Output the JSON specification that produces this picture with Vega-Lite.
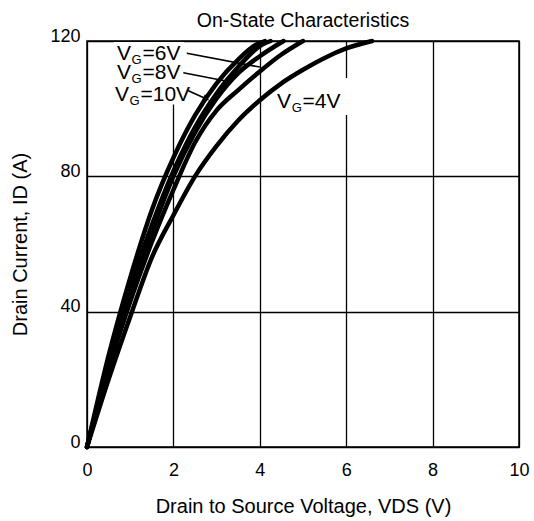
{
  "$schema": "https://vega.github.io/schema/vega-lite/v6.json",
  "width": 432,
  "height": 406,
  "autosize": {"type": "none"},
  "padding": {"left": 87, "top": 41, "right": 15, "bottom": 74},
  "background": "white",
  "config": {
    "font": "Liberation Sans",
    "view": {"stroke": "black", "strokeWidth": 1.5},
    "axis": {
      "grid": true,
      "gridColor": "black",
      "gridOpacity": 1,
      "gridWidth": 1.3,
      "ticks": false,
      "domain": false,
      "labelColor": "black",
      "labelFontSize": 18,
      "labelFlush": false,
      "titleColor": "black",
      "titleFontSize": 20,
      "titleFontWeight": "normal"
    }
  },
  "title": {
    "text": "On-State Characteristics",
    "fontSize": 19.5,
    "fontWeight": "normal",
    "color": "black",
    "frame": "group",
    "anchor": "middle",
    "baseline": "alphabetic",
    "offset": -19
  },
  "datasets": {
    "curves": [
      {"vg": "10V", "vds": 0, "id": 0},
      {"vg": "10V", "vds": 0.5, "id": 27},
      {"vg": "10V", "vds": 1.0, "id": 50},
      {"vg": "10V", "vds": 1.5, "id": 70},
      {"vg": "10V", "vds": 2.0, "id": 85.5},
      {"vg": "10V", "vds": 2.5, "id": 98},
      {"vg": "10V", "vds": 3.0, "id": 107.5},
      {"vg": "10V", "vds": 3.5, "id": 114.5},
      {"vg": "10V", "vds": 3.9, "id": 118.8},
      {"vg": "10V", "vds": 4.12, "id": 120},
      {"vg": "8V", "vds": 0, "id": 0},
      {"vg": "8V", "vds": 0.5, "id": 25},
      {"vg": "8V", "vds": 1.0, "id": 47},
      {"vg": "8V", "vds": 1.5, "id": 65.5},
      {"vg": "8V", "vds": 2.0, "id": 81.5},
      {"vg": "8V", "vds": 2.5, "id": 94.5},
      {"vg": "8V", "vds": 3.0, "id": 104.5},
      {"vg": "8V", "vds": 3.5, "id": 112.3},
      {"vg": "8V", "vds": 4.0, "id": 118.5},
      {"vg": "8V", "vds": 4.25, "id": 120},
      {"vg": "7V", "vds": 0, "id": 0},
      {"vg": "7V", "vds": 0.5, "id": 24},
      {"vg": "7V", "vds": 1.0, "id": 45},
      {"vg": "7V", "vds": 1.5, "id": 63.5},
      {"vg": "7V", "vds": 2.0, "id": 80},
      {"vg": "7V", "vds": 2.5, "id": 93},
      {"vg": "7V", "vds": 3.0, "id": 103},
      {"vg": "7V", "vds": 3.5, "id": 110.5},
      {"vg": "7V", "vds": 4.0, "id": 115.5},
      {"vg": "7V", "vds": 4.55, "id": 120},
      {"vg": "6V", "vds": 0, "id": 0},
      {"vg": "6V", "vds": 0.5, "id": 23},
      {"vg": "6V", "vds": 1.0, "id": 43},
      {"vg": "6V", "vds": 1.5, "id": 60.5},
      {"vg": "6V", "vds": 2.0, "id": 76},
      {"vg": "6V", "vds": 2.5, "id": 90},
      {"vg": "6V", "vds": 3.0, "id": 99.5},
      {"vg": "6V", "vds": 3.5, "id": 105.5},
      {"vg": "6V", "vds": 4.0, "id": 111},
      {"vg": "6V", "vds": 4.5, "id": 116},
      {"vg": "6V", "vds": 5.0, "id": 120},
      {"vg": "4V", "vds": 0, "id": 0},
      {"vg": "4V", "vds": 0.5, "id": 20},
      {"vg": "4V", "vds": 1.0, "id": 38.5},
      {"vg": "4V", "vds": 1.5, "id": 56},
      {"vg": "4V", "vds": 2.0, "id": 68.5},
      {"vg": "4V", "vds": 2.5, "id": 80},
      {"vg": "4V", "vds": 3.0, "id": 89},
      {"vg": "4V", "vds": 3.5, "id": 96.5},
      {"vg": "4V", "vds": 4.0, "id": 102.5},
      {"vg": "4V", "vds": 4.5, "id": 107.5},
      {"vg": "4V", "vds": 5.0, "id": 111.5},
      {"vg": "4V", "vds": 5.5, "id": 115},
      {"vg": "4V", "vds": 6.0, "id": 117.8},
      {"vg": "4V", "vds": 6.6, "id": 120}
    ],
    "labels": [
      {"vds": 0.694, "id": 114.4, "rest": "=6V"},
      {"vds": 0.694, "id": 108.8, "rest": "=8V"},
      {"vds": 0.648, "id": 102.3, "rest": "=10V"},
      {"vds": 4.40, "id": 100.2, "rest": "=4V"}
    ],
    "leaders": [
      {"vds": 2.31, "id": 116.4, "vds2": 4.0, "id2": 112.3},
      {"vds": 2.23, "id": 110.6, "vds2": 3.33, "id2": 107.9},
      {"vds": 2.31, "id": 105.5, "vds2": 2.78, "id2": 102.8}
    ],
    "heads": [
      {"vds": 2.76, "id": 102.9}
    ],
    "boxes": [
      {"vds": 0.62, "id": 101.2, "vds2": 2.25, "id2": 119.7},
      {"vds": 4.28, "id": 98.1, "vds2": 6.09, "id2": 109.1}
    ]
  },
  "layer": [
    {
      "data": {"name": "boxes"},
      "mark": {"type": "rect", "fill": "white"},
      "encoding": {
        "x": {"field": "vds", "type": "quantitative", "scale": {"domain": [0, 10], "nice": false}, "axis": {"values": [0, 2, 4, 6, 8, 10], "title": "Drain to Source Voltage, VDS (V)", "labelPadding": 14, "titlePadding": 17}},
        "x2": {"field": "vds2"},
        "y": {"field": "id", "type": "quantitative", "scale": {"domain": [0, 120], "nice": false}, "axis": {"values": [0, 40, 80, 120], "title": "Drain Current, ID (A)", "labelBaseline": "alphabetic", "labelPadding": 7, "titlePadding": 19}},
        "y2": {"field": "id2"}
      }
    },
    {
      "data": {"name": "curves"},
      "mark": {"type": "line", "color": "black", "strokeWidth": 4.5, "interpolate": "monotone", "strokeCap": "round"},
      "encoding": {
        "x": {"field": "vds", "type": "quantitative"},
        "y": {"field": "id", "type": "quantitative"},
        "detail": {"field": "vg"}
      }
    },
    {
      "data": {"name": "leaders"},
      "mark": {"type": "rule", "color": "black", "strokeWidth": 1.6},
      "encoding": {
        "x": {"field": "vds", "type": "quantitative"},
        "y": {"field": "id", "type": "quantitative"},
        "x2": {"field": "vds2"},
        "y2": {"field": "id2"}
      }
    },
    {
      "data": {"name": "heads"},
      "mark": {"type": "point", "shape": "triangle-right", "filled": true, "color": "black", "opacity": 1, "size": 55, "angle": 25},
      "encoding": {
        "x": {"field": "vds", "type": "quantitative"},
        "y": {"field": "id", "type": "quantitative"}
      }
    },
    {
      "data": {"name": "labels"},
      "mark": {"type": "text", "text": "V", "align": "left", "baseline": "alphabetic", "fontSize": 21, "color": "black"},
      "encoding": {
        "x": {"field": "vds", "type": "quantitative"},
        "y": {"field": "id", "type": "quantitative"}
      }
    },
    {
      "data": {"name": "labels"},
      "mark": {"type": "text", "text": "G", "align": "left", "baseline": "alphabetic", "fontSize": 13, "dx": 14.6, "dy": 4, "color": "black"},
      "encoding": {
        "x": {"field": "vds", "type": "quantitative"},
        "y": {"field": "id", "type": "quantitative"}
      }
    },
    {
      "data": {"name": "labels"},
      "mark": {"type": "text", "align": "left", "baseline": "alphabetic", "fontSize": 21, "dx": 25.5, "color": "black"},
      "encoding": {
        "x": {"field": "vds", "type": "quantitative"},
        "y": {"field": "id", "type": "quantitative"},
        "text": {"field": "rest"}
      }
    }
  ]
}
